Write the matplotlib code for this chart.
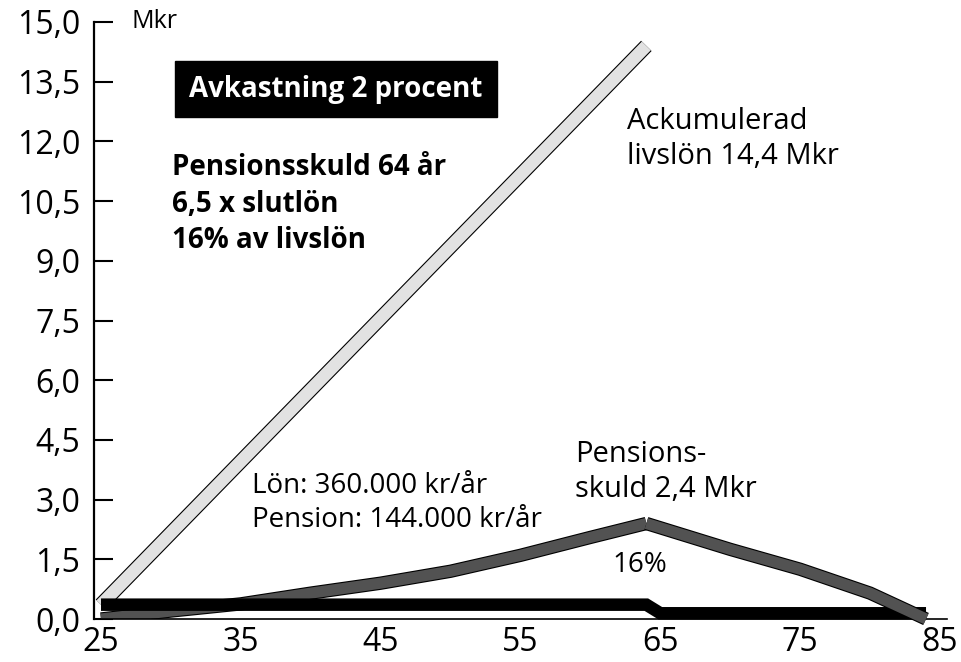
import matplotlib
matplotlib.use("Agg")
import matplotlib.pyplot as plt
import matplotlib.patheffects as pe

plt.rcParams["font.family"] = ["Open Sans", "DejaVu Sans"]

# -------------------- Data (Mkr) --------------------
alder_livslon = [25, 64]
livslon = [0.36, 14.4]

alder_skuld = [25, 30, 35, 40, 45, 50, 55, 60, 64, 70, 75, 80, 84]
skuld = [0.0, 0.2, 0.38, 0.65, 0.9, 1.2, 1.6, 2.05, 2.4, 1.75, 1.25, 0.65, 0.0]
topp = alder_skuld.index(64)

alder_lon = [25, 64, 65, 84]
lon = [0.36, 0.36, 0.144, 0.144]

x_ticks = [25, 35, 45, 55, 65, 75, 85]
y_ticks = [0, 1.5, 3, 4.5, 6, 7.5, 9, 10.5, 12, 13.5, 15]
y_labels = [f"{v:.1f}".replace(".", ",") for v in y_ticks]

# -------------------- Figure --------------------
fig = plt.figure(figsize=(9.61, 6.62), dpi=100)
ax = fig.add_axes([94 / 961, (662 - 619) / 662, (947 - 94) / 961, (619 - 22) / 662])


def outline(lw):
    return [pe.Stroke(linewidth=lw + 1.6, foreground="black"), pe.Normal()]


def px(x, y):
    # pixel position in the picture -> data coordinates
    return 25 + (x - 101) / 13.98, (619 - y) / 39.8


ax.plot(alder_livslon, livslon, color="#e2e2e2", lw=9, solid_capstyle="butt",
        path_effects=outline(9), zorder=2)
ax.plot(alder_skuld[:topp + 1], skuld[:topp + 1], color="#525252", lw=8,
        solid_capstyle="butt", solid_joinstyle="miter", path_effects=outline(8), zorder=2)
ax.plot(alder_lon, lon, color="black", lw=9, solid_capstyle="butt",
        solid_joinstyle="miter", zorder=3, clip_on=False)
ax.plot(alder_skuld[topp:], skuld[topp:], color="#525252", lw=8,
        solid_capstyle="butt", solid_joinstyle="miter", path_effects=outline(8),
        zorder=4, clip_on=False)

ax.set_xlim(24.5, 85.5)
ax.set_ylim(0, 15)
ax.set_xticks(x_ticks)
ax.set_yticks(y_ticks)
ax.set_yticklabels(y_labels)
ax.tick_params(axis="x", length=0, pad=5, labelsize=23)
ax.tick_params(axis="y", direction="in", length=14, width=1.5, pad=10, labelsize=23)
for s in ["top", "right"]:
    ax.spines[s].set_visible(False)
ax.spines["left"].set_linewidth(1.6)
ax.spines["bottom"].set_linewidth(1.2)

# -------------------- Texts --------------------
ax.text(*px(132, 22), "Mkr", fontsize=18, va="center", ha="left")
ax.text(*px(336, 89), "Avkastning 2 procent", fontsize=20, fontweight="bold",
        color="white", ha="center", va="center",
        bbox=dict(boxstyle="square,pad=0.5", fc="black", ec="black"))
ax.text(*px(172, 204), "Pensionsskuld 64 år\n6,5 x slutlön\n16% av livslön",
        fontsize=20, fontweight="bold", ha="left", va="center", linespacing=1.35)
ax.text(*px(627, 139), "Ackumulerad\nlivslön 14,4 Mkr", fontsize=21, ha="left",
        va="center", linespacing=1.25)
ax.text(*px(252, 503), "Lön: 360.000 kr/år\nPension: 144.000 kr/år",
        fontsize=20, ha="left", va="center", linespacing=1.25)
ax.text(*px(575, 472), "Pensions-\nskuld 2,4 Mkr",
        fontsize=21, ha="left", va="center", linespacing=1.25)
ax.text(*px(612, 565), "16%", fontsize=20, ha="left", va="center")

fig.savefig("out.png", dpi=100)
